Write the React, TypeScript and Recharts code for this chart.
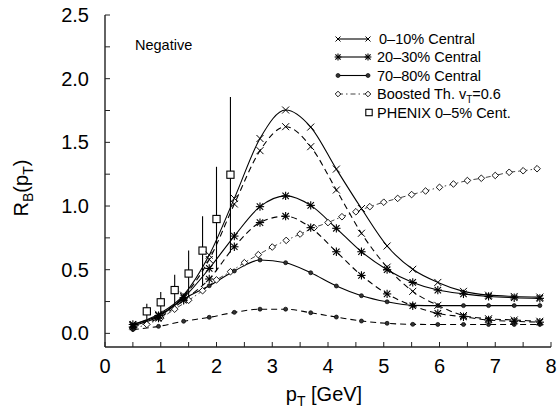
import React from "react";
import { ComposedChart, Line, Scatter, XAxis, YAxis, ErrorBar, Legend } from "recharts";

// model curves share one pT grid
const MODEL_PT = [0.5, 0.96, 1.41, 1.87, 2.32, 2.78, 3.24, 3.69, 4.15, 4.6, 5.06, 5.52, 5.97, 6.43, 6.88, 7.34, 7.8];
const CENT_0_10 = [0.07, 0.15, 0.3, 0.615, 1.06, 1.53, 1.754, 1.62, 1.29, 0.98, 0.686, 0.503, 0.4, 0.33, 0.3, 0.29, 0.285];
const CENT_0_10_DASH = [0.06, 0.14, 0.29, 0.58, 1.016, 1.435, 1.623, 1.466, 1.126, 0.786, 0.52, 0.33, 0.22, 0.14, 0.115, 0.105, 0.095];
const CENT_20_30 = [0.07, 0.14, 0.28, 0.51, 0.764, 0.995, 1.08, 1.005, 0.825, 0.641, 0.5, 0.4, 0.34, 0.31, 0.29, 0.28, 0.275];
const CENT_20_30_DASH = [0.05, 0.12, 0.26, 0.427, 0.68, 0.87, 0.92, 0.83, 0.641, 0.455, 0.31, 0.217, 0.157, 0.13, 0.105, 0.095, 0.088];
const PERIPH_70_80 = [0.06, 0.13, 0.27, 0.374, 0.49, 0.576, 0.555, 0.476, 0.372, 0.296, 0.248, 0.22, 0.218, 0.218, 0.218, 0.218, 0.218];
const PERIPH_70_80_DASH = [0.03, 0.055, 0.095, 0.126, 0.165, 0.19, 0.19, 0.162, 0.128, 0.097, 0.079, 0.071, 0.07, 0.07, 0.07, 0.07, 0.07];

const BOOST_PT = [0.5, 0.75, 1, 1.25, 1.5, 1.75, 2, 2.25, 2.5, 2.75, 3, 3.25, 3.5, 3.75, 4, 4.25, 4.5, 4.75, 5, 5.25, 5.5, 5.75, 6, 6.25, 6.5, 6.75, 7, 7.25, 7.5, 7.75];
const BOOSTED = [0.04, 0.07, 0.12, 0.19, 0.26, 0.335, 0.42, 0.484, 0.555, 0.618, 0.678, 0.73, 0.78, 0.83, 0.87, 0.916, 0.955, 0.995, 1.03, 1.06, 1.09, 1.118, 1.147, 1.173, 1.2, 1.218, 1.24, 1.265, 1.277, 1.293];

const PHENIX_PT = [0.75, 1.0, 1.25, 1.5, 1.75, 2.0, 2.25];
const PHENIX_R = [0.173, 0.244, 0.34, 0.47, 0.65, 0.898, 1.246];
const PHENIX_ERR = [0.06, 0.08, 0.12, 0.18, 0.27, 0.41, 0.61];

const X_TICKS = [0, 0.5, 1, 1.5, 2, 2.5, 3, 3.5, 4, 4.5, 5, 5.5, 6, 6.5, 7, 7.5, 8];
const Y_TICKS = [0, 0.25, 0.5, 0.75, 1, 1.25, 1.5, 1.75, 2, 2.25, 2.5];
const Y_DOMAIN = [-0.107, 2.5];

const rows = (xs: number[], ys: number[]) => xs.map((pt, i) => ({ pt, r: ys[i] }));
const phenixRows = PHENIX_PT.map((pt, i) => ({ pt, r: PHENIX_R[i], err: PHENIX_ERR[i] }));

const INK = "#000";
const FONT = "'Liberation Sans', Arial, Helvetica, sans-serif";

function Cross({ cx, cy, s = 3.5 }: any) {
  return (
    <g stroke={INK} strokeWidth={1}>
      <line x1={cx - s} y1={cy - s} x2={cx + s} y2={cy + s} />
      <line x1={cx - s} y1={cy + s} x2={cx + s} y2={cy - s} />
    </g>
  );
}

function Star({ cx, cy, s = 3.2 }: any) {
  return (
    <g stroke={INK} strokeWidth={1.1}>
      <line x1={cx - s} y1={cy - s} x2={cx + s} y2={cy + s} />
      <line x1={cx - s} y1={cy + s} x2={cx + s} y2={cy - s} />
      <line x1={cx - s * 1.3} y1={cy} x2={cx + s * 1.3} y2={cy} />
      <line x1={cx} y1={cy - s * 1.3} x2={cx} y2={cy + s * 1.3} />
    </g>
  );
}

function SmallDot({ cx, cy }: any) {
  return <circle cx={cx} cy={cy} r={2} fill="#333" stroke={INK} strokeWidth={0.7} />;
}

function Diamond({ cx, cy, s = 3.3 }: any) {
  return (
    <polygon
      points={`${cx},${cy - s} ${cx + s},${cy} ${cx},${cy + s} ${cx - s},${cy}`}
      fill="#fff"
      stroke={INK}
      strokeWidth={0.9}
    />
  );
}

function OpenSquare({ cx, cy, s = 3.6 }: any) {
  return <rect x={cx - s} y={cy - s} width={2 * s} height={2 * s} fill="#fff" stroke={INK} strokeWidth={1.1} />;
}

const dotWith = (Mark: any) => (p: any) => <Mark key={`m-${p.index}`} cx={p.cx} cy={p.cy} />;

const xTickFmt = (v: number) => (Number.isInteger(v) ? String(v) : "");
const yTickFmt = (v: number) => (Math.abs(v * 2 - Math.round(v * 2)) < 1e-9 ? v.toFixed(1) : "");

function KeyBox() {
  // box origin sits at the plot's top-left corner (105, 15)
  const ox = 105;
  const oy = 15;
  const lx1 = 338 - ox;
  const lx2 = 368 - ox;
  const tx = 377 - ox;
  const ys = [39, 57, 75.5, 94, 112.5].map((y) => y - oy);
  const txt = { fontSize: 14.5, fill: INK, fontFamily: FONT } as const;
  return (
    <svg width={446} height={120} style={{ display: "block", overflow: "visible" }}>
      <text x={135 - ox} y={50 - oy} {...txt}>Negative</text>

      <line x1={lx1} y1={ys[0]} x2={lx2} y2={ys[0]} stroke={INK} strokeWidth={1.1} />
      <Cross cx={lx1} cy={ys[0]} s={2.5} />
      <Cross cx={lx2} cy={ys[0]} s={2.5} />
      <text x={tx + 2} y={ys[0] + 5.2} {...txt}>0–10% Central</text>

      <line x1={lx1} y1={ys[1]} x2={lx2} y2={ys[1]} stroke={INK} strokeWidth={1.1} />
      <Star cx={lx1} cy={ys[1]} s={2.6} />
      <Star cx={lx2} cy={ys[1]} s={2.6} />
      <text x={tx} y={ys[1] + 5.2} {...txt}>20–30% Central</text>

      <line x1={lx1} y1={ys[2]} x2={lx2} y2={ys[2]} stroke={INK} strokeWidth={1.1} />
      <SmallDot cx={lx1} cy={ys[2]} />
      <SmallDot cx={lx2} cy={ys[2]} />
      <text x={tx} y={ys[2] + 5.2} {...txt}>70–80% Central</text>

      <line x1={lx1} y1={ys[3]} x2={lx2} y2={ys[3]} stroke="#444" strokeWidth={1} strokeDasharray="5 3 1.5 3" />
      <Diamond cx={lx1} cy={ys[3]} s={2.8} />
      <Diamond cx={lx2} cy={ys[3]} s={2.8} />
      <text x={tx} y={ys[3] + 5.2} {...txt}>
        Boosted Th. v<tspan dy={4} fontSize={10}>T</tspan><tspan dy={-4}>=0.6</tspan>
      </text>

      <OpenSquare cx={lx2 + 1} cy={ys[4]} s={3.2} />
      <text x={tx} y={ys[4] + 5.2} {...txt}>PHENIX 0–5% Cent.</text>
    </svg>
  );
}

function XTitle({ viewBox }: any) {
  const cx = viewBox.x + viewBox.width / 2 - 4;
  return (
    <text x={cx} y={viewBox.y + 54} textAnchor="middle" fontSize={20} fill={INK} fontFamily={FONT}>
      p<tspan dy={5} fontSize={14}>T</tspan><tspan dy={-5}> [GeV]</tspan>
    </text>
  );
}

function YTitle({ viewBox }: any) {
  const x = 28;
  const y = viewBox.y + viewBox.height / 2 + 7;
  return (
    <text x={x} y={y} transform={`rotate(-90, ${x}, ${y})`} textAnchor="middle" fontSize={20} fill={INK} fontFamily={FONT}>
      R<tspan dy={5} fontSize={14}>B</tspan><tspan dy={-5}>(p</tspan><tspan dy={5} fontSize={14}>T</tspan><tspan dy={-5}>)</tspan>
    </text>
  );
}

export default function App() {
  const tickStyle = { fontSize: 20, fill: INK, fontFamily: FONT };
  const axisLine = { stroke: "#222", strokeWidth: 1.4 };
  const tickLine = { stroke: "#222", strokeWidth: 1 };
  return (
    <div style={{ position: "absolute", left: 0, top: 0, width: 558, height: 415, background: "#fff", fontFamily: FONT }}>
      <ComposedChart width={558} height={415} margin={{ top: 15, right: 7, bottom: 0, left: 0 }}>
        <XAxis
          dataKey="pt"
          type="number"
          domain={[0, 8]}
          ticks={X_TICKS}
          allowDataOverflow
          tickFormatter={xTickFmt}
          tick={tickStyle}
          tickSize={-5}
          tickMargin={17}
          axisLine={axisLine}
          tickLine={tickLine}
          height={68}
          interval={0}
          label={<XTitle />}
        />
        <XAxis
          xAxisId="top"
          orientation="top"
          type="number"
          domain={[0, 8]}
          ticks={X_TICKS}
          allowDataOverflow
          mirror
          tick={false}
          tickSize={5}
          axisLine={axisLine}
          tickLine={tickLine}
          height={0}
          interval={0}
        />
        <YAxis
          type="number"
          domain={Y_DOMAIN}
          ticks={Y_TICKS}
          allowDataOverflow
          tickFormatter={yTickFmt}
          tick={tickStyle}
          tickSize={-5}
          tickMargin={21}
          axisLine={axisLine}
          tickLine={tickLine}
          width={105}
          interval={0}
          label={<YTitle />}
        />
        <YAxis
          yAxisId="right"
          orientation="right"
          type="number"
          domain={Y_DOMAIN}
          ticks={Y_TICKS}
          allowDataOverflow
          mirror
          tick={false}
          tickSize={5}
          axisLine={axisLine}
          tickLine={tickLine}
          width={0}
          interval={0}
        />

        <Line data={rows(BOOST_PT, BOOSTED)} dataKey="r" type="monotone" stroke="#444" strokeWidth={1} strokeDasharray="5 3 1.5 3" dot={dotWith(Diamond)} isAnimationActive={false} />
        <Line data={rows(MODEL_PT, PERIPH_70_80_DASH)} dataKey="r" type="monotone" stroke={INK} strokeWidth={1.1} strokeDasharray="6 4" dot={dotWith(SmallDot)} isAnimationActive={false} />
        <Line data={rows(MODEL_PT, PERIPH_70_80)} dataKey="r" type="monotone" stroke={INK} strokeWidth={1.1} dot={dotWith(SmallDot)} isAnimationActive={false} />
        <Line data={rows(MODEL_PT, CENT_20_30_DASH)} dataKey="r" type="monotone" stroke={INK} strokeWidth={1.1} strokeDasharray="6 4" dot={dotWith(Star)} isAnimationActive={false} />
        <Line data={rows(MODEL_PT, CENT_20_30)} dataKey="r" type="monotone" stroke={INK} strokeWidth={1.1} dot={dotWith(Star)} isAnimationActive={false} />
        <Line data={rows(MODEL_PT, CENT_0_10_DASH)} dataKey="r" type="monotone" stroke={INK} strokeWidth={1.1} strokeDasharray="6 4" dot={dotWith(Cross)} isAnimationActive={false} />
        <Line data={rows(MODEL_PT, CENT_0_10)} dataKey="r" type="monotone" stroke={INK} strokeWidth={1.1} dot={dotWith(Cross)} isAnimationActive={false} />

        <Scatter data={phenixRows} dataKey="r" shape={(p: any) => <OpenSquare cx={p.cx} cy={p.cy} />} isAnimationActive={false}>
          <ErrorBar dataKey="err" direction="y" width={0} stroke={INK} strokeWidth={1.1} />
        </Scatter>

        <Legend
          layout="horizontal"
          verticalAlign="middle"
          align="center"
          content={() => <KeyBox />}
          wrapperStyle={{ position: "absolute", left: 105, top: 15, width: 446, height: 120 }}
        />
      </ComposedChart>
    </div>
  );
}
